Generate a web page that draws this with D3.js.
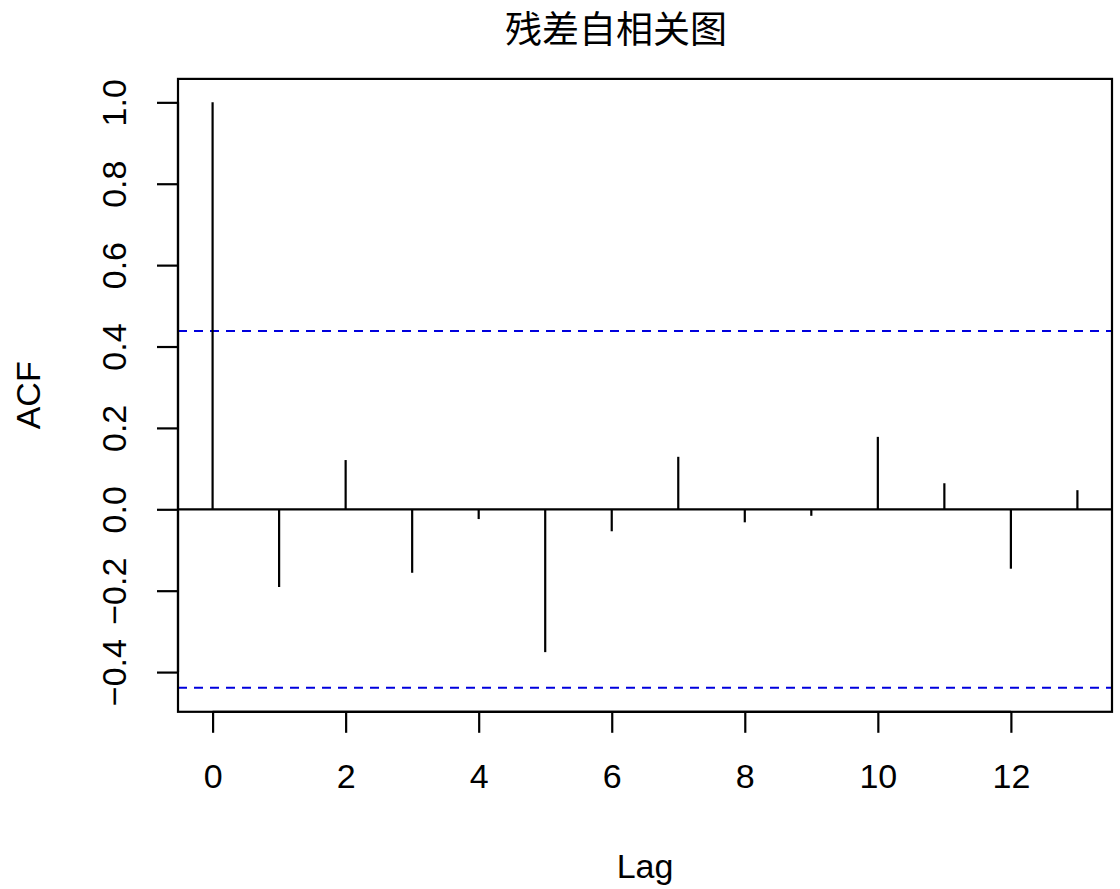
<!DOCTYPE html>
<html><head><meta charset="utf-8">
<script src="https://cdn.jsdelivr.net/npm/d3@7"></script>
<style>body{margin:0;background:#fff}svg{display:block}</style>
</head><body>
<script>
const lags = [0,1,2,3,4,5,6,7,8,9,10,11,12,13];
const acfValues = [1.0,-0.191,0.121,-0.156,-0.024,-0.351,-0.054,0.129,-0.032,-0.016,0.178,0.064,-0.146,0.047];
const xTicks = [0,2,4,6,8,10,12];
const yTicks = [-0.4,-0.2,0.0,0.2,0.4,0.6,0.8,1.0];
const confLimit = 0.4383;
const title = "残差自相关图";

const W = 1120, H = 889;
const L = 178, R = 1112, T = 78.9, B = 711.8;
const svg = d3.select("body").append("svg").attr("width", W).attr("height", H);
const xs = d3.scaleLinear().domain([-0.52, 13.52]).range([L, R]);
const ys = d3.scaleLinear().domain([-0.4976, 1.0576]).range([B, T]);
const font = "Liberation Sans, Arial, Helvetica, sans-serif";
const fs = 34;

// CI lines
svg.selectAll("line.ci").data([confLimit, -confLimit]).enter().append("line")
  .attr("x1", L).attr("x2", R).attr("y1", d => ys(d)).attr("y2", d => ys(d))
  .attr("stroke", "#0000dd").attr("stroke-width", 2).attr("stroke-dasharray", "9,7");

// zero line
svg.append("line").attr("x1", L).attr("x2", R).attr("y1", ys(0)).attr("y2", ys(0))
  .attr("stroke", "#000").attr("stroke-width", 2.2);

// spikes
svg.selectAll("line.spike").data(lags).enter().append("line")
  .attr("x1", d => xs(d)).attr("x2", d => xs(d))
  .attr("y1", ys(0)).attr("y2", (d,i) => ys(acfValues[i]))
  .attr("stroke", "#000").attr("stroke-width", 2.2);

// box
svg.append("rect").attr("x", L).attr("y", T).attr("width", R - L).attr("height", B - T)
  .attr("fill", "none").attr("stroke", "#000").attr("stroke-width", 2.2);

// x axis
const xAxis = d3.axisBottom(xs).tickValues(xTicks).tickSize(21).tickPadding(31).tickFormat(d3.format("d"));
const gx = svg.append("g").attr("transform", `translate(0,${B})`).call(xAxis);
gx.select(".domain").attr("d", `M${xs(0)},0H${xs(12)}`).attr("stroke-width", 2.2);
gx.selectAll(".tick line").attr("stroke-width", 2.2);
gx.selectAll("text").attr("font-family", font).attr("font-size", fs).attr("fill", "#000");

// y axis
const yAxis = d3.axisLeft(ys).tickValues(yTicks).tickSize(21).tickFormat(d => d3.format(".1f")(d).replace("-", "\u2212"));
const gy = svg.append("g").attr("transform", `translate(${L},0)`).call(yAxis);
gy.select(".domain").attr("d", `M0,${ys(-0.4)}V${ys(1)}`).attr("stroke-width", 2.2);
gy.selectAll(".tick line").attr("stroke-width", 2.2);
gy.selectAll(".tick text")
  .attr("font-family", font).attr("font-size", fs).attr("fill", "#000")
  .attr("x", null).attr("dy", null)
  .attr("text-anchor", "middle")
  .attr("transform", `translate(${126 - L},0) rotate(-90)`);

// labels
svg.append("text").attr("x", 616).attr("y", 43).attr("text-anchor", "middle")
  .attr("font-family", "Noto Sans CJK SC").attr("font-size", 37).text(title);
svg.append("text").attr("x", (L + R) / 2).attr("y", 878).attr("text-anchor", "middle")
  .attr("font-family", font).attr("font-size", fs).text("Lag");
svg.append("text").attr("transform", `translate(40,${(T + B) / 2}) rotate(-90)`).attr("text-anchor", "middle")
  .attr("font-family", font).attr("font-size", fs).text("ACF");
</script>
</body></html>
